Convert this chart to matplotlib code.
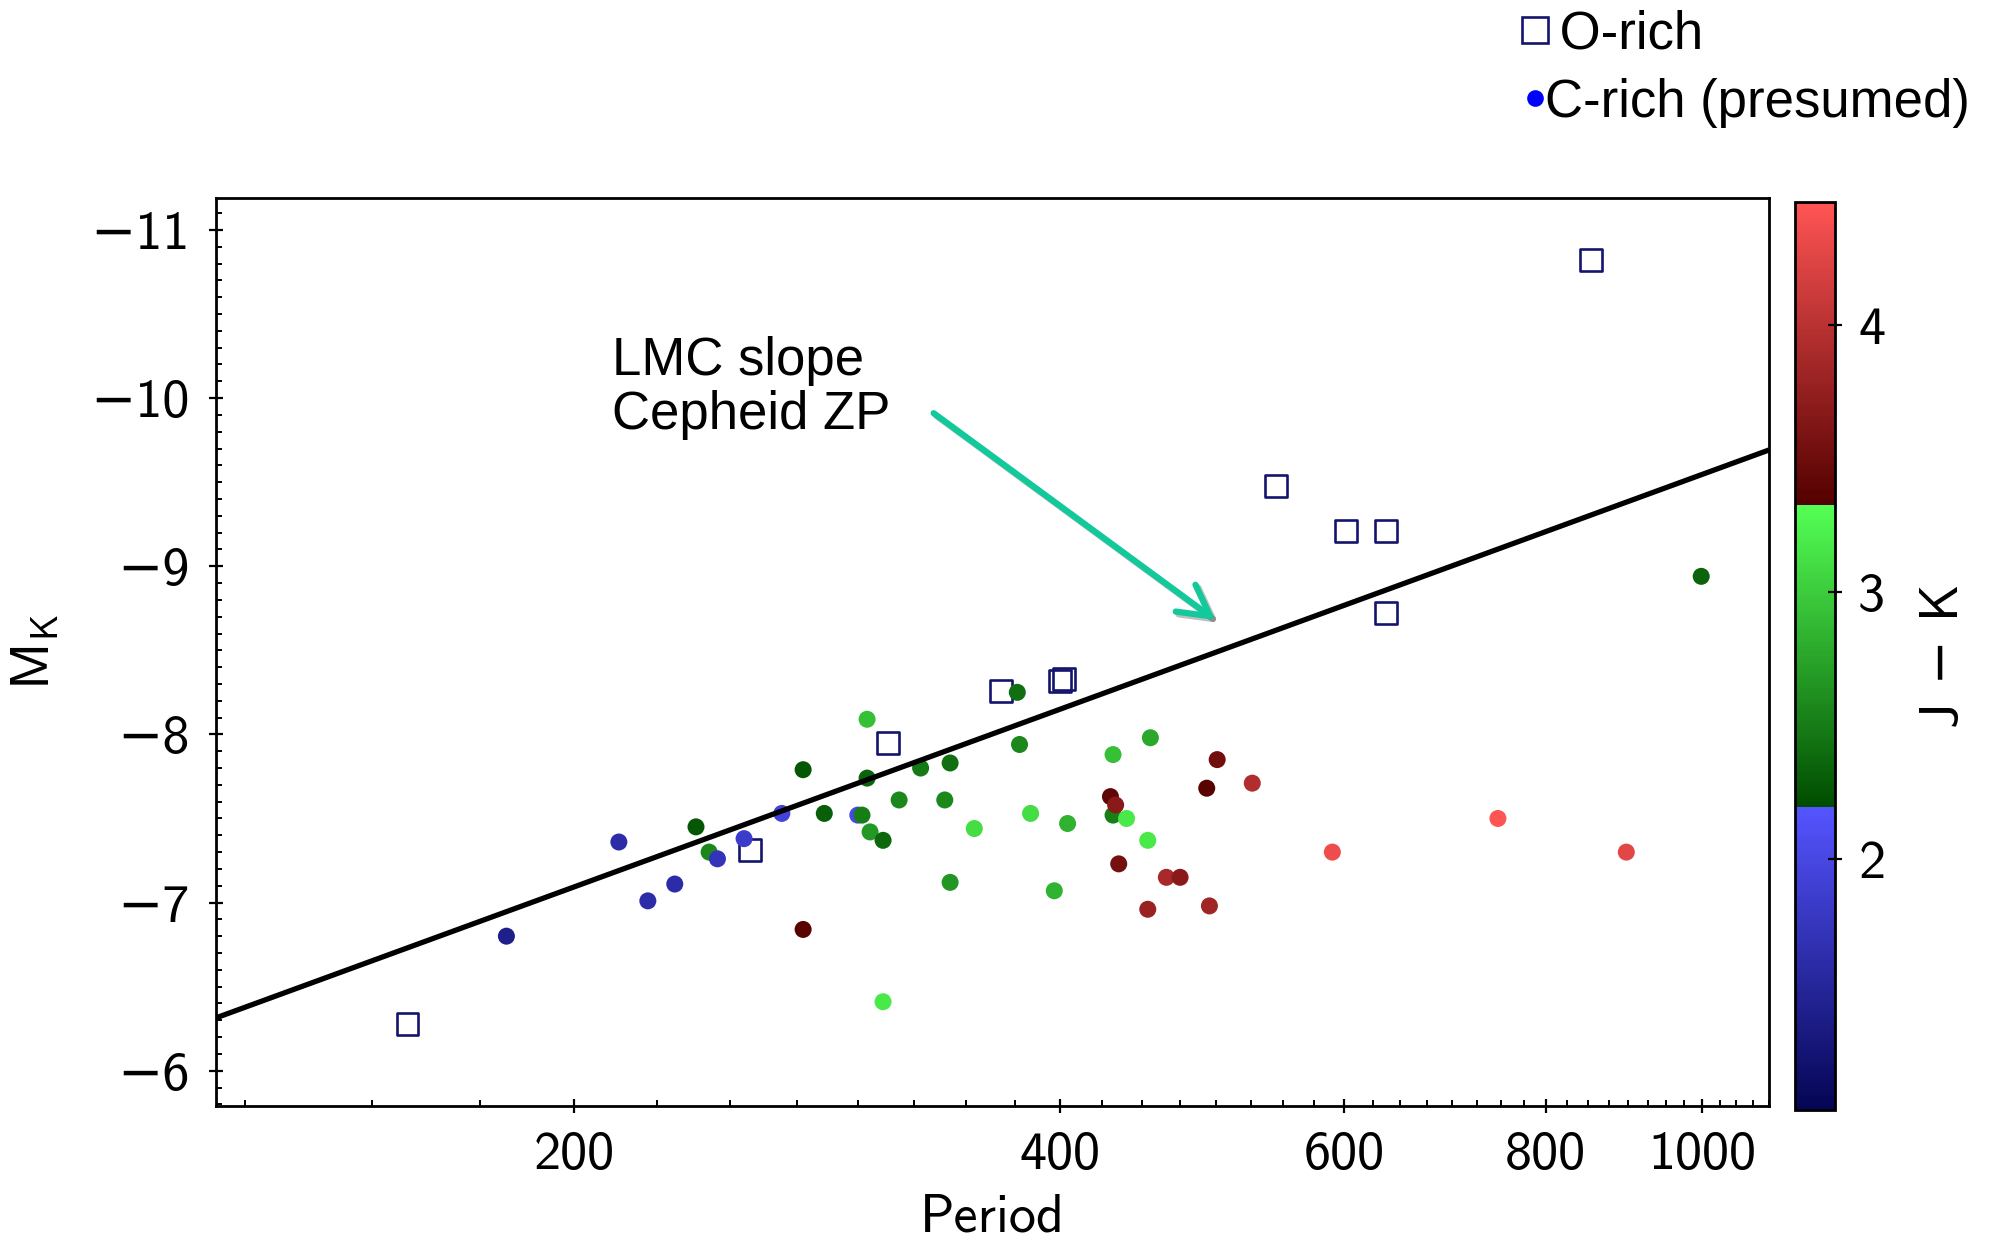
import numpy as np
import matplotlib
matplotlib.use("Agg")
import matplotlib.pyplot as plt
from matplotlib.colors import ListedColormap, Normalize
from matplotlib.ticker import FixedLocator, MultipleLocator, NullFormatter, FormatStrFormatter
from matplotlib.lines import Line2D
import matplotlib.patheffects as pe

# ---------------- data ----------------
# O-rich stars (open squares)
period_o = [157.7, 257.1, 313.2, 367.8, 400.2, 402.3, 544.6, 601.4, 636.9, 636.9, 853.4]
mk_o = [-6.28, -7.31, -7.95, -8.26, -8.32, -8.33, -9.48, -9.21, -9.21, -8.72, -10.82]

# C-rich (presumed) stars, coloured by J-K
period_c = [181.6, 213.2, 222.2, 230.9, 238.0, 242.5, 245.4, 254.9, 269.0, 277.3,
            277.3, 285.8, 299.8, 301.6, 303.8, 303.8, 305.1, 310.8, 310.8, 318.0,
            327.9, 339.4, 342.0, 342.0, 354.0, 376.4, 377.6, 383.6, 396.8, 404.4,
            429.9, 431.5, 431.5, 433.1, 435.0, 439.9, 453.4, 453.4, 455.1, 465.6,
            474.8, 493.2, 495.1, 500.6, 526.3, 590.0, 747.2, 897.4, 998.6]
mk_c = [-6.80, -7.36, -7.01, -7.11, -7.45, -7.30, -7.26, -7.38, -7.53, -7.79,
        -6.84, -7.53, -7.52, -7.52, -8.09, -7.74, -7.42, -7.37, -6.41, -7.61,
        -7.80, -7.61, -7.83, -7.12, -7.44, -8.25, -7.94, -7.53, -7.07, -7.47,
        -7.63, -7.88, -7.52, -7.58, -7.23, -7.50, -7.37, -6.96, -7.98, -7.15,
        -7.15, -7.68, -6.98, -7.85, -7.71, -7.30, -7.50, -7.30, -8.94]
jk_c = [1.43, 1.62, 1.62, 1.62, 2.27, 2.57, 1.74, 1.85, 1.94, 2.27,
        3.36, 2.31, 2.02, 2.51, 2.92, 2.35, 2.68, 2.37, 3.18, 2.57,
        2.48, 2.57, 2.42, 2.65, 3.11, 2.42, 2.57, 3.11, 2.85, 2.83,
        3.41, 2.92, 2.52, 3.68, 3.55, 3.18, 3.18, 3.79, 2.77, 3.88,
        3.68, 3.35, 3.83, 3.53, 3.94, 4.35, 4.45, 4.26, 2.35]

# LMC slope, Cepheid zero point PL relation
pl_slope = -3.51
pl_logp0 = 2.38
pl_zp = -7.37

xlim = (120, 1100)
ylim = (-5.79, -11.19)
jk_range = (1.06, 4.46)
x_major = [200, 400, 600, 800, 1000]
cbar_ticks = [2, 3, 4]

# ---------------- style ----------------
plt.rcParams['font.family'] = ['cmss10', 'DejaVu Sans']
plt.rcParams['axes.unicode_minus'] = True
plt.rcParams['mathtext.fontset'] = 'dejavusans'

FS = 39

# three-segment colormap: blue | green | red
n = 100
t = np.linspace(0, 1, n)[:, None]
blue = np.hstack([0.02 + 0.31 * t, 0.02 + 0.31 * t, 0.33 + 0.67 * t])
green = np.hstack([0.33 * t, 0.30 + 0.70 * t, 0.33 * t])
red = np.hstack([0.33 + 0.67 * t, 0.33 * t, 0.33 * t])
cmap = ListedColormap(np.vstack([blue, green, red]))
norm = Normalize(vmin=jk_range[0], vmax=jk_range[1])

fig = plt.figure(figsize=(19.94, 12.44), dpi=100)
W, H = 1994, 1244
ax = fig.add_axes([216 / W, 1 - 1106 / H, (1769 - 216) / W, (1106 - 198) / H])
cax = fig.add_axes([1795 / W, 1 - 1110 / H, 40 / W, (1110 - 202) / H])

# PL line
lx = np.array(xlim, dtype=float)
ly = pl_zp + pl_slope * (np.log10(lx) - pl_logp0)
ax.plot(lx, ly, color='black', lw=3.8, zorder=4, solid_capstyle='butt')

# points
ax.scatter(period_o, mk_o, marker='s', s=250, facecolors='none',
           edgecolors='#14146e', linewidths=1.9, zorder=2)
sc = ax.scatter(period_c, mk_c, c=jk_c, cmap=cmap, norm=norm, s=150,
                edgecolors='none', zorder=3)

ax.set_xscale('log')
ax.set_xlim(*xlim)
ax.set_ylim(*ylim)

ax.xaxis.set_major_locator(FixedLocator(x_major))
ax.xaxis.set_major_formatter(FormatStrFormatter('%d'))
ax.xaxis.set_minor_locator(MultipleLocator(25))
ax.xaxis.set_minor_formatter(NullFormatter())
ax.yaxis.set_major_locator(MultipleLocator(1))
ax.yaxis.set_minor_locator(MultipleLocator(0.1))

for s in ax.spines.values():
    s.set_linewidth(2.0)
ax.tick_params(which='major', direction='inout', length=9.5, width=1.6,
               labelsize=FS, top=False, right=False)
ax.tick_params(axis='y', which='major', pad=14)
ax.tick_params(axis='x', which='major', pad=13)
ax.tick_params(which='minor', direction='in', length=4.5, width=1.4,
               top=False, right=False)

ax.set_xlabel('Period', fontsize=FS, labelpad=10)
ax.set_ylabel(r'$\mathregular{M_K}$', fontsize=FS, labelpad=21)

# annotation
ax.text(211, -10.06, 'LMC slope\nCepheid ZP', fontsize=38, family='Liberation Sans',
        ha='left', va='center', linespacing=1.1)
ax.annotate('', xy=(501, -8.67), xytext=(333, -9.92),
            arrowprops=dict(arrowstyle='->, head_length=0.55, head_width=0.3',
                            color='#12c99b', lw=4.5, mutation_scale=40,
                            path_effects=[pe.SimpleLineShadow(offset=(2, -2), alpha=0.25),
                                          pe.Normal()]))

# colorbar
cb = fig.colorbar(sc, cax=cax, ticks=cbar_ticks)
cb.outline.set_linewidth(2.0)
cb.ax.tick_params(direction='inout', length=9.5, width=1.6, labelsize=FS, pad=12)
cb.ax.minorticks_off()
cb.set_label('J − K', fontsize=FS, labelpad=25)

# legend
handles = [
    Line2D([], [], marker='s', ls='none', markersize=19, markerfacecolor='none',
           markeredgecolor='#14146e', markeredgewidth=1.9),
    Line2D([], [], marker='o', ls='none', markersize=12, markerfacecolor='#0000ff',
           markeredgecolor='none'),
]
fig.legend(handles, [' O-rich', 'C-rich (presumed)'], loc='upper left',
           bbox_to_anchor=(1524 / W, 0.992), frameon=False, borderpad=0,
           borderaxespad=0, handlelength=0.4, handletextpad=0.0,
           labelspacing=0.34, prop={'family': 'Liberation Sans', 'size': 38})

fig.savefig('out.png', dpi=100)
